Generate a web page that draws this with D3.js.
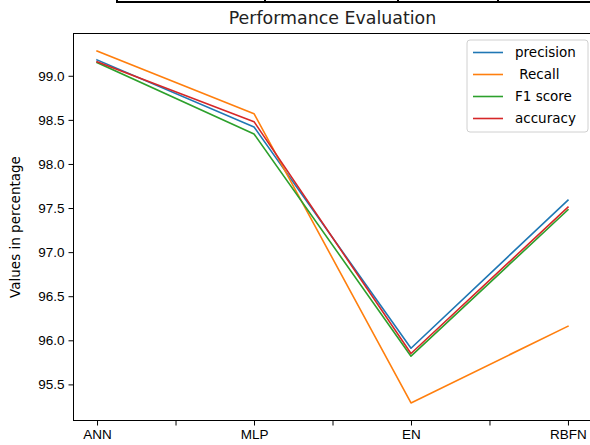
<!DOCTYPE html>
<html>
<head>
<meta charset="utf-8">
<script src="https://cdn.jsdelivr.net/npm/d3@7"></script>
<style>
  body { margin: 0; background: #fff; }
  svg { display: block; font-family: "DejaVu Sans", sans-serif; }
  .axis text { font-size: 13.5px; fill: #000; }
  .axis path, .axis line { stroke: #000; stroke-width: 1; }
</style>
</head>
<body>
<div id="chart"></div>
<script>
// values
var models = ["ANN", "MLP", "EN", "RBFN"];
var precision = [99.18, 98.42, 95.91, 97.59];
var recall = [99.28, 98.57, 95.29, 96.16];
var f1score = [99.15, 98.34, 95.82, 97.48];
var accuracy = [99.16, 98.48, 95.85, 97.51];
var seriesNames = ["precision", " Recall", "F1 score", "accuracy"];
var yTicks = [95.5, 96.0, 96.5, 97.0, 97.5, 98.0, 98.5, 99.0];

var width = 590, height = 445;
var margin = { left: 73.5, right: 591.5, top: 33.5, bottom: 420.5 };
var colors = ["#1f77b4", "#ff7f0e", "#2ca02c", "#d62728"];

var series = [precision, recall, f1score, accuracy].map(function (v, i) {
    return { name: seriesNames[i], values: v, color: colors[i] };
});

var svg = d3.select("#chart").append("svg")
    .attr("width", width)
    .attr("height", height);

// leftover table border at the very top of the picture
svg.append("path")
    .attr("d", "M117,2H590M117,0V3M265,0V3M398,0V3M498,0V3")
    .attr("stroke", "#000")
    .attr("stroke-width", 2)
    .attr("fill", "none");

var x = d3.scaleLinear()
    .domain([-0.15, models.length - 1 + 0.15])
    .range([margin.left, margin.right]);

var allVals = d3.merge(series.map(function (s) { return s.values; }));
var lo = d3.min(allVals), hi = d3.max(allVals), pad = (hi - lo) * 0.05;
var y = d3.scaleLinear()
    .domain([lo - pad, hi + pad])
    .range([margin.bottom, margin.top]);

// plot frame
svg.append("rect")
    .attr("x", margin.left)
    .attr("y", margin.top)
    .attr("width", margin.right - margin.left)
    .attr("height", margin.bottom - margin.top)
    .attr("fill", "none")
    .attr("stroke", "#000")
    .attr("stroke-width", 1);

// x axis: a tick every half step, labels on the models only
var xTicks = d3.range(0, models.length - 0.5, 0.5);
svg.append("g")
    .attr("class", "axis")
    .attr("transform", "translate(0," + margin.bottom + ")")
    .call(d3.axisBottom(x)
        .tickValues(xTicks)
        .tickSize(5)
        .tickPadding(4)
        .tickFormat(function (d) { return d % 1 === 0 ? models[d] : ""; }))
    .call(function (g) { g.select(".domain").remove(); });

svg.append("g")
    .attr("class", "axis")
    .attr("transform", "translate(" + margin.left + ",0)")
    .call(d3.axisLeft(y)
        .tickValues(yTicks)
        .tickSize(5)
        .tickPadding(4)
        .tickFormat(d3.format(".1f")))
    .call(function (g) { g.select(".domain").remove(); });

// lines
var line = d3.line()
    .x(function (d, i) { return x(i); })
    .y(function (d) { return y(d); });

svg.append("g").selectAll("path")
    .data(series)
    .enter().append("path")
    .attr("d", function (d) { return line(d.values); })
    .attr("fill", "none")
    .attr("stroke", function (d) { return d.color; })
    .attr("stroke-width", 1.6)
    .attr("stroke-linejoin", "round")
    .attr("stroke-linecap", "square");

// title and y label
svg.append("text")
    .attr("x", (margin.left + margin.right) / 2)
    .attr("y", 23.5)
    .attr("text-anchor", "middle")
    .attr("font-size", 17.4)
    .attr("fill", "#222")
    .text("Performance Evaluation");

svg.append("text")
    .attr("transform", "translate(20," + (margin.top + margin.bottom) / 2 + ") rotate(-90)")
    .attr("text-anchor", "middle")
    .attr("font-size", 13.5)
    .text("Values in percentage");

// legend
var legend = svg.append("g").attr("transform", "translate(467,40)");
legend.append("rect")
    .attr("width", 121)
    .attr("height", 92)
    .attr("rx", 3)
    .attr("fill", "#fff")
    .attr("fill-opacity", 0.8)
    .attr("stroke", "#d0d0d0");

var item = legend.selectAll("g.item")
    .data(series)
    .enter().append("g")
    .attr("class", "item")
    .attr("transform", function (d, i) { return "translate(0," + (12.5 + i * 22) + ")"; });

item.append("line")
    .attr("x1", 6).attr("x2", 36)
    .attr("stroke", function (d) { return d.color; })
    .attr("stroke-width", 1.6);

item.append("text")
    .attr("x", 48)
    .attr("dy", "0.35em")
    .attr("font-size", 13.5)
    .attr("xml:space", "preserve")
    .style("white-space", "pre")
    .text(function (d) { return d.name; });
</script>
</body>
</html>
